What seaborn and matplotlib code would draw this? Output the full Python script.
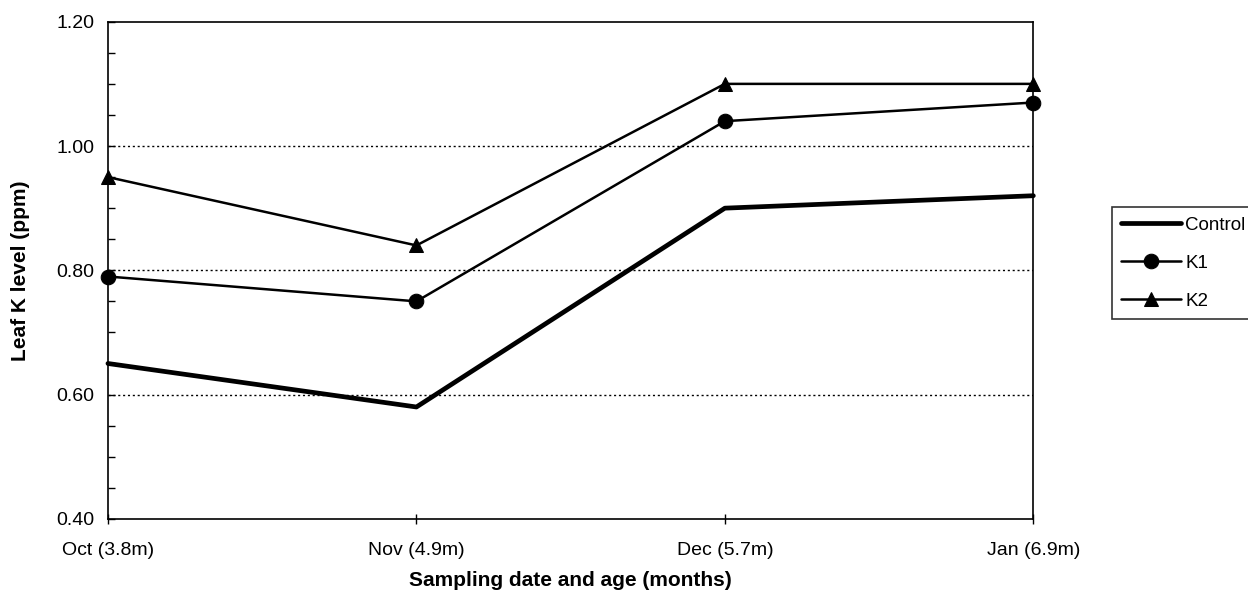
import matplotlib
matplotlib.use("Agg")
import matplotlib.pyplot as plt
import seaborn as sns
import pandas as pd
from matplotlib.ticker import MultipleLocator

# Data
months = ['Oct (3.8m)', 'Nov (4.9m)', 'Dec (5.7m)', 'Jan (6.9m)']
control = [0.65, 0.58, 0.90, 0.92]
k1 = [0.79, 0.75, 1.04, 1.07]
k2 = [0.95, 0.84, 1.10, 1.10]

df = pd.DataFrame({
    'month': months * 3,
    'value': control + k1 + k2,
    'series': ['Control'] * 4 + ['K1'] * 4 + ['K2'] * 4,
})

sns.set_style('white')
plt.rcParams['font.family'] = ['Liberation Sans', 'DejaVu Sans']
plt.rcParams['text.color'] = 'black'
plt.rcParams['axes.labelcolor'] = 'black'
plt.rcParams['xtick.color'] = 'black'
plt.rcParams['ytick.color'] = 'black'

fig = plt.figure(figsize=(12.48, 6.04), dpi=100)
ax = fig.add_axes([0.0865, 0.141, 0.7415, 0.823])

styles = {
    'Control': dict(lw=3.4, marker=None, ms=0),
    'K1': dict(lw=1.8, marker='o', ms=10.5),
    'K2': dict(lw=1.8, marker='^', ms=10.5),
}
for name, st in styles.items():
    sub = df[df['series'] == name]
    sns.lineplot(data=sub, x='month', y='value', ax=ax, color='black',
                 linewidth=st['lw'], marker=st['marker'], markersize=st['ms'],
                 markeredgecolor='black', label=name, clip_on=False)

ax.set_xlim(0, 3)
ax.set_ylim(0.40, 1.20)
ax.yaxis.set_minor_locator(MultipleLocator(0.05))
ax.set_yticks([0.40, 0.60, 0.80, 1.00, 1.20])
ax.set_yticklabels(['0.40', '0.60', '0.80', '1.00', '1.20'])
ax.tick_params(axis='y', which='both', direction='in', length=5, width=1, left=True)
ax.tick_params(axis='y', labelsize=14, pad=10)
ax.tick_params(axis='x', direction='inout', length=7, width=1, bottom=True, labelsize=14, pad=13)

for y in [0.60, 0.80, 1.00]:
    ax.axhline(y, color='black', lw=1, ls=(0, (1.5, 2)), zorder=0)

for sp in ax.spines.values():
    sp.set_color('black')
    sp.set_linewidth(1.2)

ax.set_xlabel('Sampling date and age (months)', fontsize=15, fontweight='bold', labelpad=9)
ax.set_ylabel('Leaf K level (ppm)', fontsize=15, fontweight='bold', labelpad=19)

leg = ax.legend(loc='upper left', bbox_to_anchor=(0.891, 0.657), bbox_transform=fig.transFigure,
                frameon=True, fancybox=False, edgecolor='black', fontsize=13.5,
                handlelength=3.2, borderpad=0.5, labelspacing=1.12, handletextpad=0.2,
                borderaxespad=0)
leg.get_frame().set_linewidth(1.2)

fig.savefig('out.png', dpi=100)
